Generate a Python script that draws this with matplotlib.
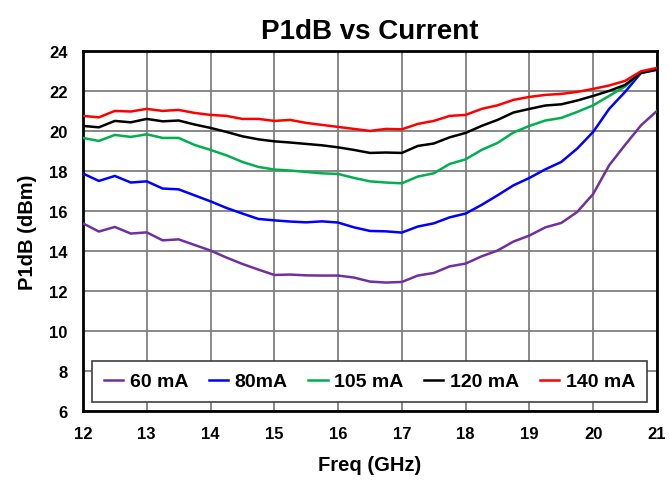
import numpy as np
import matplotlib
matplotlib.use("Agg")
import matplotlib.pyplot as plt

plt.rcParams['font.family'] = ['Liberation Sans', 'DejaVu Sans']
plt.rcParams['font.weight'] = 'bold'

freq = [12.0, 12.25, 12.5, 12.75, 13.0, 13.25, 13.5, 13.75, 14.0, 14.25, 14.5, 14.75,
        15.0, 15.25, 15.5, 15.75, 16.0, 16.25, 16.5, 16.75, 17.0, 17.25, 17.5, 17.75,
        18.0, 18.25, 18.5, 18.75, 19.0, 19.25, 19.5, 19.75, 20.0, 20.25, 20.5, 20.75, 21.0]

p60 = [15.38, 14.97, 15.2, 14.87, 14.93, 14.53, 14.58, 14.3, 14.02, 13.67, 13.35, 13.07,
       12.8, 12.82, 12.78, 12.77, 12.77, 12.67, 12.47, 12.42, 12.45, 12.77, 12.9, 13.23,
       13.37, 13.73, 14.02, 14.47, 14.77, 15.18, 15.4, 15.95, 16.85, 18.28, 19.3, 20.28, 21.0]

p80 = [17.87, 17.5, 17.75, 17.42, 17.48, 17.12, 17.08, 16.78, 16.48, 16.15, 15.87, 15.6,
       15.53, 15.47, 15.43, 15.48, 15.42, 15.18, 15.0, 14.98, 14.92, 15.22, 15.38, 15.68,
       15.87, 16.3, 16.78, 17.28, 17.65, 18.08, 18.45, 19.12, 19.95, 21.1, 21.95, 22.9, 23.05]

p105 = [19.65, 19.5, 19.8, 19.7, 19.83, 19.65, 19.65, 19.3, 19.05, 18.78, 18.45, 18.2,
        18.07, 18.02, 17.95, 17.88, 17.85, 17.65, 17.48, 17.42, 17.38, 17.72, 17.88, 18.35,
        18.58, 19.05, 19.4, 19.92, 20.25, 20.52, 20.65, 20.95, 21.28, 21.75, 22.22, 22.93, 23.1]

p120 = [20.25, 20.18, 20.5, 20.43, 20.6, 20.48, 20.52, 20.32, 20.15, 19.95, 19.73, 19.58,
        19.48, 19.42, 19.35, 19.28, 19.18, 19.05, 18.9, 18.92, 18.9, 19.25, 19.37, 19.68,
        19.9, 20.25, 20.55, 20.92, 21.1, 21.27, 21.33, 21.52, 21.75, 22.0, 22.3, 22.9, 23.08]

p140 = [20.75, 20.68, 21.0, 20.97, 21.1, 21.0, 21.05, 20.9, 20.8, 20.75, 20.6, 20.6,
        20.5, 20.55, 20.4, 20.3, 20.2, 20.1, 20.0, 20.1, 20.08, 20.35, 20.5, 20.75,
        20.8, 21.1, 21.28, 21.55, 21.7, 21.8, 21.85, 21.95, 22.1, 22.27, 22.5, 22.98, 23.15]

labels = ["60 mA", "80mA", "105 mA", "120 mA", "140 mA"]
colors = ["#7030A0", "#0000FF", "#00B050", "#000000", "#FF0000"]

fig = plt.figure(figsize=(6.69, 4.85), dpi=100)
ax = fig.add_axes([0.124, 0.1505, 0.858, 0.7425])

for y, lab, c in zip([p60, p80, p105, p120, p140], labels, colors):
    ax.plot(freq, y, color=c, lw=1.8, label=lab, zorder=3)

ax.set_xlim(12, 21)
ax.set_ylim(6, 24)
ax.set_xticks(range(12, 22))
ax.set_yticks(range(6, 25, 2))
ax.grid(True, color="#7f7f7f", lw=1.3)
ax.set_axisbelow(True)
for s in ax.spines.values():
    s.set_linewidth(2)
ax.tick_params(labelsize=12, length=0, pad=11)
for t in ax.get_xticklabels() + ax.get_yticklabels():
    t.set_fontweight('bold')

ax.set_title("P1dB vs Current", fontsize=20, fontweight='bold', pad=9)
ax.set_xlabel("Freq (GHz)", fontsize=14.5, fontweight='bold', labelpad=10)
ax.set_ylabel("P1dB (dBm)", fontsize=14.5, fontweight='bold', labelpad=9)

leg = ax.legend(loc="lower left", bbox_to_anchor=(0.0157, 0.025, 0.967, 0.131),
                mode="expand", ncol=5, borderaxespad=0, fancybox=False,
                prop={'size': 14, 'weight': 'bold'}, handlelength=1.0,
                handletextpad=0.35, columnspacing=0.6, borderpad=0.6)
leg.get_frame().set_edgecolor("#404040")
leg.get_frame().set_linewidth(1.2)
leg.get_frame().set_alpha(1)

fig.savefig("out.png", dpi=100)
